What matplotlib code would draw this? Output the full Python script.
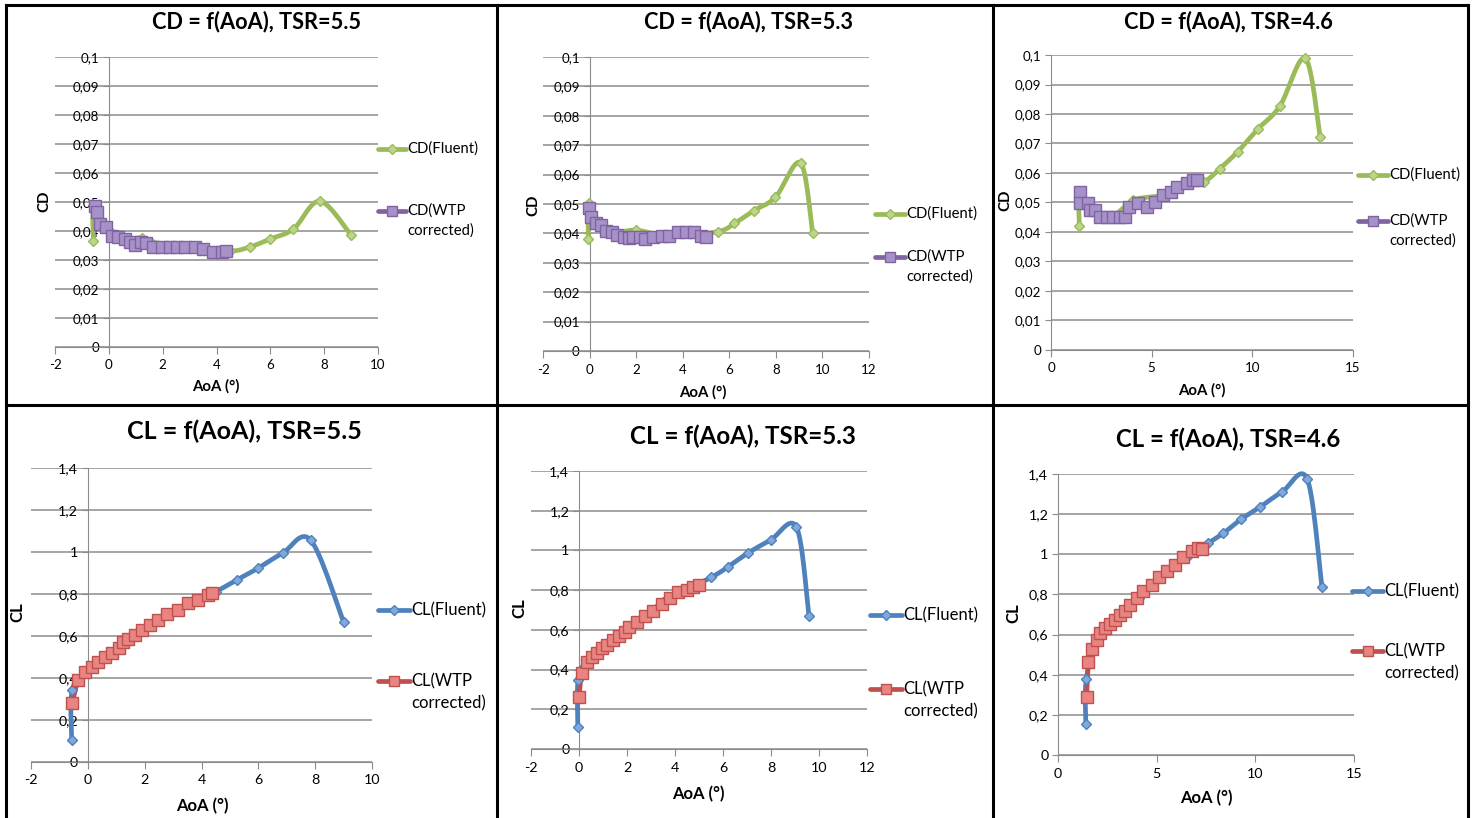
import numpy as np
import matplotlib
matplotlib.use("Agg")
import matplotlib.pyplot as plt
from matplotlib.lines import Line2D
from matplotlib.ticker import FuncFormatter

plt.rcParams['font.family'] = ['Lato', 'DejaVu Sans']
plt.rcParams['axes.unicode_minus'] = False

W, H = 1479, 818

# ---- data ----
# TSR = 5.5
aoa_f55 = [-0.57, -0.55, 0.0, 0.6, 1.25, 2.2, 3.2, 4.5, 5.24, 5.98, 6.86, 7.84, 9.0]
cd_f55 = [0.0366, 0.047, 0.0405, 0.0368, 0.0376, 0.0345, 0.0344, 0.0331, 0.0345, 0.0372, 0.0407, 0.0503, 0.0386]
cl_f55 = [0.105, 0.343, 0.44, 0.50, 0.573, 0.652, 0.724, 0.811, 0.867, 0.922, 0.995, 1.057, 0.667]
aoa_wcd55 = [-0.52, -0.43, -0.33, -0.09, 0.1, 0.35, 0.6, 0.78, 0.97, 1.21, 1.38,
             1.65, 1.96, 2.27, 2.52, 2.83, 3.2, 3.51, 3.88, 4.19, 4.37]
cd_w55 = [0.0486, 0.0467, 0.0424, 0.0415, 0.0383, 0.0378, 0.0371, 0.0363, 0.0352, 0.0363, 0.036,
          0.0346, 0.0346, 0.0346, 0.0346, 0.0346, 0.0346, 0.0337, 0.0329, 0.0329, 0.0332]
aoa_wcl55 = [-0.55, -0.34, -0.1, 0.14, 0.37, 0.61, 0.84, 1.08, 1.25, 1.43, 1.67,
             1.9, 2.19, 2.48, 2.78, 3.19, 3.54, 3.89, 4.24, 4.36]
cl_w55 = [0.28, 0.39, 0.43, 0.454, 0.478, 0.501, 0.518, 0.541, 0.573, 0.584, 0.605,
          0.629, 0.652, 0.676, 0.705, 0.724, 0.759, 0.771, 0.795, 0.803]

# TSR = 5.3
aoa_f53 = [-0.05, -0.04, 0.3, 1.0, 2.0, 3.5, 5.5, 6.22, 7.04, 7.98, 9.06, 9.58]
cd_f53 = [0.038, 0.0504, 0.0436, 0.0404, 0.0411, 0.039, 0.0406, 0.0434, 0.0477, 0.0523, 0.064, 0.040]
cl_f53 = [0.112, 0.347, 0.44, 0.51, 0.6, 0.74, 0.864, 0.918, 0.987, 1.052, 1.118, 0.67]
aoa_wcd53 = [-0.03, 0.07, 0.29, 0.5, 0.69, 0.97, 1.17, 1.46, 1.69, 1.86, 2.15,
             2.4, 2.72, 3.12, 3.43, 3.79, 4.15, 4.5, 4.79, 5.0]
cd_w53 = [0.0485, 0.0455, 0.0434, 0.043, 0.0409, 0.0406, 0.0394, 0.0389, 0.0383, 0.0389, 0.0389,
          0.0381, 0.0389, 0.0391, 0.0391, 0.0406, 0.0406, 0.0406, 0.0391, 0.0389]
aoa_wcl53 = [0.01, 0.11, 0.32, 0.53, 0.74, 0.95, 1.15, 1.43, 1.68, 1.92, 2.1,
             2.4, 2.75, 3.1, 3.45, 3.79, 4.14, 4.49, 4.76, 5.01]
cl_w53 = [0.263, 0.384, 0.44, 0.465, 0.482, 0.507, 0.524, 0.549, 0.569, 0.591, 0.616,
          0.641, 0.67, 0.696, 0.728, 0.759, 0.789, 0.801, 0.817, 0.826]

# TSR = 4.6
aoa_f46 = [1.41, 1.43, 2.0, 3.0, 4.09, 5.5, 6.6, 7.6, 8.38, 9.27, 10.26, 11.37, 12.63, 13.37]
cd_f46 = [0.042, 0.0505, 0.0478, 0.0452, 0.0508, 0.0525, 0.0562, 0.0571, 0.0614, 0.0672, 0.0748, 0.0827, 0.0989, 0.0723]
cl_f46 = [0.154, 0.377, 0.573, 0.68, 0.78, 0.915, 0.99, 1.055, 1.105, 1.174, 1.237, 1.312, 1.375, 0.839]
aoa_wcd46 = [1.44, 1.44, 1.85, 1.94, 2.19, 2.43, 2.77, 3.1, 3.43, 3.68, 3.89,
             4.34, 4.75, 5.17, 5.55, 5.95, 6.27, 6.74, 7.04, 7.24]
cd_w46 = [0.0537, 0.0497, 0.0497, 0.0475, 0.0475, 0.0452, 0.0452, 0.0452, 0.0452, 0.0452, 0.0486,
          0.0497, 0.0486, 0.0503, 0.0525, 0.0537, 0.0554, 0.0565, 0.0576, 0.0576]
aoa_wcl46 = [1.45, 1.54, 1.71, 1.96, 2.13, 2.38, 2.64, 2.89, 3.14, 3.4, 3.65,
             3.99, 4.32, 4.75, 5.13, 5.54, 5.93, 6.35, 6.78, 7.11, 7.28]
cl_w46 = [0.29, 0.465, 0.528, 0.573, 0.606, 0.631, 0.653, 0.673, 0.698, 0.719, 0.747,
          0.78, 0.819, 0.847, 0.885, 0.918, 0.947, 0.985, 1.018, 1.03, 1.025]

GREEN, GREEN_F = '#9BBB59', '#BCD58A'
PURPLE, PURPLE_F = '#8064A2', '#A692C8'
BLUE, BLUE_F = '#4F81BD', '#80A8DA'
RED, RED_F = '#C0504D', '#E88582'
GRID = '#8C8C8C'


def fx(px):
    return px / W


def fy(py):
    return 1 - py / H


def smooth(x, y, n=16):
    # Excel style smoothed line (Catmull-Rom through the points)
    P = np.column_stack([x, y]).astype(float)
    P = np.vstack([P[0], P, P[-1]])
    t = np.linspace(0, 1, n)[:, None]
    segs = []
    for i in range(1, len(P) - 2):
        p0, p1, p2, p3 = P[i - 1], P[i], P[i + 1], P[i + 2]
        segs.append(0.5 * (2 * p1 + (-p0 + p2) * t + (2 * p0 - 5 * p1 + 4 * p2 - p3) * t ** 2
                           + (-p0 + 3 * p1 - 3 * p2 + p3) * t ** 3))
    s = np.vstack(segs)
    return s[:, 0], s[:, 1]


def comma(v, pos):
    s = ('%.2f' % v).rstrip('0').rstrip('.')
    return s.replace('.', ',')


fig = plt.figure(figsize=(W / 100, H / 100), dpi=100)


def panel(box, xlim, xticks, ylim, ystep, title, tpos, tsize, ylab, ylpos, xlpos,
          series, legend, fs):
    tick_fs, lab_fs, leg_fs, gap = fs
    x0, x1, ytop, ybot = box
    ax = fig.add_axes([fx(x0), fy(ybot), fx(x1) - fx(x0), (ybot - ytop) / H])
    ax.set_xlim(*xlim)
    ax.set_ylim(*ylim)
    ax.set_xticks(xticks)
    ax.set_yticks(np.arange(ylim[0], ylim[1] + ystep / 2, ystep))
    ax.yaxis.set_major_formatter(FuncFormatter(comma))
    ax.grid(axis='y', color=GRID, lw=1.1)
    ax.set_axisbelow(True)
    for s in ['top', 'right']:
        ax.spines[s].set_visible(False)
    ax.spines['left'].set_position(('data', 0))
    ax.spines['left'].set_color(GRID)
    ax.spines['bottom'].set_color(GRID)
    ax.tick_params(axis='y', length=4, color=GRID, labelsize=tick_fs, pad=3)
    ax.tick_params(axis='x', length=5, color=GRID, labelsize=tick_fs, pad=4)
    ax.patch.set_alpha(0)

    for xs, ys, col, face, mk, ms in series:
        sx, sy = smooth(xs, ys)
        ax.plot(sx, sy, color=col, lw=3.4, solid_capstyle='round', zorder=3, clip_on=False)
        ax.plot(xs, ys, ls='none', marker=mk, ms=ms, mfc=face, mec=col, mew=1.0,
                zorder=4, clip_on=False)

    fig.text(fx(tpos[0]), fy(tpos[1]), title, ha='center', va='center',
             fontsize=tsize, fontweight='bold')
    fig.text(fx(ylpos[0]), fy(ylpos[1]), ylab, ha='center', va='center',
             rotation=90, fontsize=lab_fs, fontweight='bold')
    fig.text(fx(xlpos[0]), fy(xlpos[1]), 'AoA (°)', ha='center', va='center',
             fontsize=lab_fs, fontweight='bold')

    # legend drawn by hand, Excel style
    (lx0, lx1, ly1, ly2), labels = legend
    for (xs, ys, col, face, mk, ms), ly, lab in zip(series, [ly1, ly2], labels):
        fig.add_artist(Line2D([fx(lx0), fx(lx1)], [fy(ly), fy(ly)], color=col, lw=3.4,
                              solid_capstyle='round', transform=fig.transFigure))
        fig.add_artist(Line2D([fx((lx0 + lx1) / 2)], [fy(ly)], ls='none', marker=mk,
                              ms=ms * 0.85, mfc=face, mec=col, mew=1.0,
                              transform=fig.transFigure))
        for k, line in enumerate(lab.split('\n')):
            fig.text(fx(lx1 + 1), fy(ly + k * gap), line, ha='left', va='center',
                     fontsize=leg_fs)
    return ax


cd_fs = (9.6, 10.8, 10.7, 20)
cl_fs = (10.3, 12, 12, 22)

# CD panels
panel((55, 378, 57, 347), (-2, 10), range(-2, 11, 2), (0, 0.1), 0.01,
      'CD = f(AoA), TSR=5.5', (257, 22), 15.7, 'CD', (44, 201), (216, 386),
      [(aoa_f55, cd_f55, GREEN, GREEN_F, 'D', 5.5),
       (aoa_wcd55, cd_w55, PURPLE, PURPLE_F, 's', 8.5)],
      ((378, 406, 149, 211), ['CD(Fluent)', 'CD(WTP\ncorrected)']), cd_fs)

panel((543, 869, 57, 351), (-2, 12), range(-2, 13, 2), (0, 0.1), 0.01,
      'CD = f(AoA), TSR=5.3', (749, 22), 15.7, 'CD', (533, 205), (703, 392),
      [(aoa_f53, cd_f53, GREEN, GREEN_F, 'D', 5.5),
       (aoa_wcd53, cd_w53, PURPLE, PURPLE_F, 's', 8.5)],
      ((875, 905, 214, 257), ['CD(Fluent)', 'CD(WTP\ncorrected)']), cd_fs)

panel((1051, 1353, 55, 350), (0, 15), range(0, 16, 5), (0, 0.1), 0.01,
      'CD = f(AoA), TSR=4.6', (1228, 22), 15.7, 'CD', (1005, 200), (1202, 390),
      [(aoa_f46, cd_f46, GREEN, GREEN_F, 'D', 5.5),
       (aoa_wcd46, cd_w46, PURPLE, PURPLE_F, 's', 8.5)],
      ((1358, 1388, 175, 221), ['CD(Fluent)', 'CD(WTP\ncorrected)']), cd_fs)

# CL panels
panel((31, 372, 468, 762), (-2, 10), range(-2, 11, 2), (0, 1.4), 0.2,
      'CL = f(AoA), TSR=5.5', (244, 431), 18, 'CL', (17, 612), (202, 806),
      [(aoa_f55, cl_f55, BLUE, BLUE_F, 'D', 5.5),
       (aoa_wcl55, cl_w55, RED, RED_F, 's', 8.5)],
      ((378, 410, 610, 681), ['CL(Fluent)', 'CL(WTP\ncorrected)']), cl_fs)

panel((531, 867, 471, 749), (-2, 12), range(-2, 13, 2), (0, 1.4), 0.2,
      'CL = f(AoA), TSR=5.3', (743, 436), 17.4, 'CL', (519, 608), (698, 794),
      [(aoa_f53, cl_f53, BLUE, BLUE_F, 'D', 5.5),
       (aoa_wcl53, cl_w53, RED, RED_F, 's', 8.5)],
      ((870, 902, 615, 689), ['CL(Fluent)', 'CL(WTP\ncorrected)']), cl_fs)

panel((1058, 1354, 474, 755), (0, 15), range(0, 16, 5), (0, 1.4), 0.2,
      'CL = f(AoA), TSR=4.6', (1228, 439), 17.3, 'CL', (1013, 613), (1206, 798),
      [(aoa_f46, cl_f46, BLUE, BLUE_F, 'D', 5.5),
       (aoa_wcl46, cl_w46, RED, RED_F, 's', 8.5)],
      ((1352, 1383, 591, 651), ['CL(Fluent)', 'CL(WTP\ncorrected)']), cl_fs)

# table borders around the six charts
for xp in [6, 497, 993, 1468]:
    fig.add_artist(Line2D([fx(xp), fx(xp)], [fy(5), fy(818)], color='black', lw=2.2))
for yp in [5, 405]:
    fig.add_artist(Line2D([fx(6), fx(1468)], [fy(yp), fy(yp)], color='black', lw=2.2))

fig.savefig('out.png', dpi=100)
